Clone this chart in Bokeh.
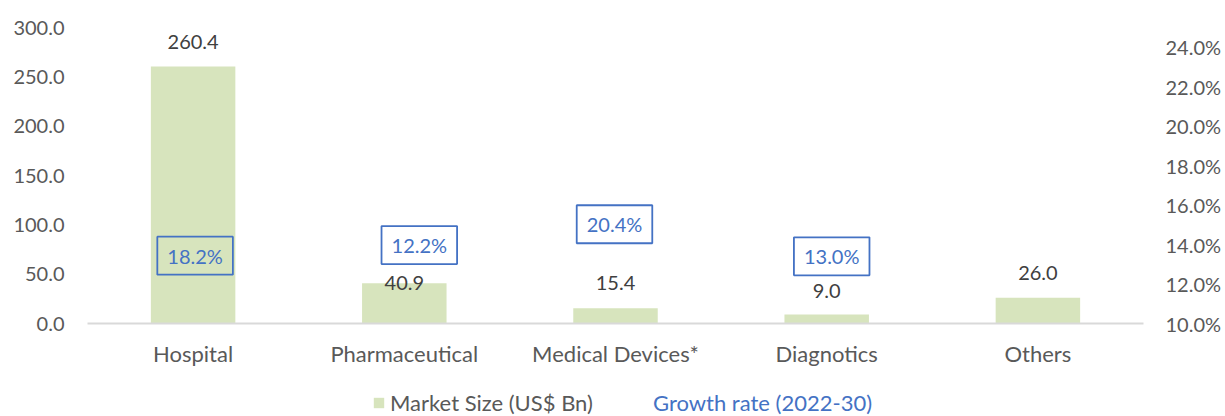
from bokeh.plotting import figure
from bokeh.layouts import column
from bokeh.models import (ColumnDataSource, FactorRange, Range1d, LinearAxis, FixedTicker,
                          PrintfTickFormatter, Legend, LegendItem)
from bokeh.core.properties import value
from bokeh.embed import file_html
from bokeh.resources import INLINE

# ---------------- data ----------------
categories = ["Hospital", "Pharmaceutical", "Medical Devices*", "Diagnotics", "Others"]
market_size = [260.4, 40.9, 15.4, 9.0, 26.0]
growth_categories = ["Hospital", "Pharmaceutical", "Medical Devices*", "Diagnotics"]
growth_rate = [18.2, 12.2, 20.4, 13.0]
left_ticks = [0, 50, 100, 150, 200, 250, 300]
right_ticks = [10, 12, 14, 16, 18, 20, 22, 24]
series_names = ["Market Size (US$ Bn)", "Growth rate (2022-30)"]

# ---------------- layout / style ----------------
size_label_dy = [-25, 0, -25, -24, -25]
growth_label_dx = [2, 15, -1, 5]
growth_label_dy = [94, -35, 106, -8]

FONT = "Lato"
BAR_COLOR = "#D7E4BD"
BLUE = "#4472C4"
GRAY = "#595959"

p = figure(frame_width=1056, frame_height=296, height=386,
           x_range=FactorRange(factors=categories),
           y_range=Range1d(0, 300), output_backend="svg", toolbar_location=None,
           min_border_left=87, min_border_right=82, min_border_top=27, min_border_bottom=63)
p.extra_y_ranges = {"growth": Range1d(10, 25)}
p.outline_line_color = None
p.xgrid.visible = False
p.ygrid.visible = False

bar_src = ColumnDataSource(dict(
    cat=categories, val=market_size,
    lab=["%.1f" % v for v in market_size], dy=size_label_dy))
bars = p.vbar(x="cat", top="val", width=0.4, source=bar_src, color=BAR_COLOR, line_color=None)
p.text(x="cat", y="val", text="lab", y_offset="dy", source=bar_src,
       text_align="center", text_baseline="middle", text_font=value(FONT),
       text_font_size="20px", text_color="#404040")

g_src = ColumnDataSource(dict(
    cat=growth_categories, val=growth_rate,
    lab=["%.1f%%" % v for v in growth_rate], dx=growth_label_dx, dy=growth_label_dy))
p.line(x="cat", y="val", source=g_src, y_range_name="growth", line_alpha=0)
p.text(x="cat", y="val", text="lab", x_offset="dx", y_offset="dy", source=g_src,
       y_range_name="growth", text_align="center", text_baseline="middle",
       text_font=value(FONT), text_font_size="20px", text_color=BLUE,
       border_line_color=BLUE, border_line_width=1.8, background_fill_color=None,
       padding=(10, 7))

# axes
xa = p.xaxis[0]
xa.axis_line_color = "#D9D9D9"
xa.axis_line_width = 2
xa.major_tick_line_color = None
xa.minor_tick_line_color = None
xa.major_tick_out = 0
xa.major_label_standoff = 16
xa.major_label_text_font = FONT
xa.major_label_text_font_size = "22px"
xa.major_label_text_color = GRAY

ya = p.yaxis[0]
ya.ticker = FixedTicker(ticks=left_ticks)
ya.formatter = PrintfTickFormatter(format="%.1f")
ya.axis_line_color = None
ya.major_tick_line_color = None
ya.minor_tick_line_color = None
ya.major_tick_out = 0
ya.major_tick_in = 0
ya.major_label_standoff = 23
ya.major_label_text_font = FONT
ya.major_label_text_font_size = "20px"
ya.major_label_text_color = GRAY

ra = LinearAxis(y_range_name="growth", ticker=FixedTicker(ticks=right_ticks),
                formatter=PrintfTickFormatter(format="%.1f%%"))
ra.axis_line_color = None
ra.major_tick_line_color = None
ra.minor_tick_line_color = None
ra.major_tick_out = 0
ra.major_tick_in = 0
ra.major_label_standoff = 22
ra.major_label_text_font = FONT
ra.major_label_text_font_size = "20px"
ra.major_label_text_color = GRAY
p.add_layout(ra, "right")

# legend strip (separate small figure below the chart)
q = figure(width=1225, height=30, x_range=Range1d(0, 1225), y_range=Range1d(0, 30),
           output_backend="svg", toolbar_location=None, x_axis_type=None, y_axis_type=None,
           min_border=0)
q.outline_line_color = None
q.xgrid.visible = False
q.ygrid.visible = False
# zero-size placeholder glyphs: they only supply the legend swatch styles
leg_bar = q.vbar(x=[0], top=[0], width=0, color=BAR_COLOR, line_color=None)
leg_line = q.line(x=[0, 0], y=[0, 0], line_alpha=0)


def make_legend(item, loc, color, gw, standoff):
    return Legend(items=[item], location=loc, orientation="horizontal",
                  glyph_width=gw, glyph_height=13, label_standoff=standoff,
                  padding=0, margin=0, border_line_color=None, background_fill_alpha=0,
                  label_text_font=FONT, label_text_font_size="22px",
                  label_text_color=color, label_height=22)


q.add_layout(make_legend(LegendItem(label=series_names[0], renderers=[leg_bar]), (285, 0), GRAY, 13, 5), "center")
q.add_layout(make_legend(LegendItem(label=series_names[1], renderers=[leg_line]), (565, 0), BLUE, 1, 0), "center")

open("out.html", "w").write(file_html(column(p, q, spacing=0), INLINE))
